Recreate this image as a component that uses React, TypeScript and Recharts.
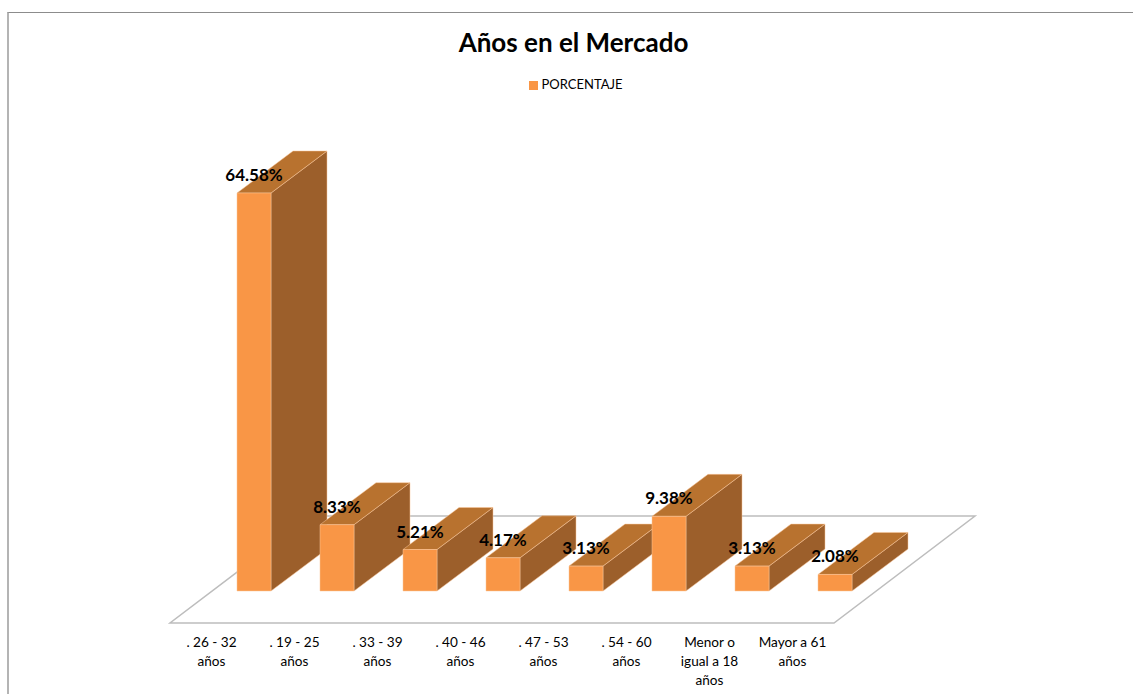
import React from "react";
import { BarChart, Bar, XAxis, YAxis, Legend, LabelList, usePlotArea } from "recharts";

// Chart data
const categories = [
  ". 26 - 32 años",
  ". 19 - 25 años",
  ". 33 - 39 años",
  ". 40 - 46 años",
  ". 47 - 53 años",
  ". 54 - 60 años",
  "Menor o igual a 18 años",
  "Mayor a 61 años",
];
const tickLines = [
  [". 26 - 32", "años"],
  [". 19 - 25", "años"],
  [". 33 - 39", "años"],
  [". 40 - 46", "años"],
  [". 47 - 53", "años"],
  [". 54 - 60", "años"],
  ["Menor o", "igual a 18", "años"],
  ["Mayor a 61", "años"],
];
const porcentaje = [64.58, 8.33, 5.21, 4.17, 3.13, 9.38, 3.13, 2.08];
const rows = categories.map((categoria, i) => ({ categoria, porcentaje: porcentaje[i] }));

// The value axis stops at 50%; taller columns are cut there and keep their true label.
const AXIS_CAP = 50;
const SCALE_TOP = 65;

// Oblique projection of the 3D box and the floor plane
const DEPTH_X = 56;
const DEPTH_Y = 42;
const FRONT_SHIFT = 42;
const FLOOR_FRONT = 32;
const FLOOR_BACK = 75;
const FLOOR_SHEAR = 141;

const COLORS = {
  front: "#F99646",
  side: "#9C5F2B",
  top: "#B8722F",
  edge: "#FBC79A",
  floor: "#BDBDBD",
  text: "#000000",
};
const FONT = "Lato, 'Open Sans', sans-serif";

function cappedTop(y: number, height: number, value: number) {
  const base = y + height;
  return base - height * (Math.min(value, AXIS_CAP) / value);
}

function BoxShape(props: any) {
  const { x, y, width, height, value } = props;
  const v = Array.isArray(value) ? value[1] : value;
  const left = x + FRONT_SHIFT;
  const right = left + width;
  const base = y + height;
  const top = cappedTop(y, height, v);
  const stroke = { stroke: COLORS.edge, strokeWidth: 0.5, strokeLinejoin: "round" as const };
  return (
    <g>
      <polygon
        points={`${right},${top} ${right + DEPTH_X},${top - DEPTH_Y} ${right + DEPTH_X},${base - DEPTH_Y} ${right},${base}`}
        fill={COLORS.side}
        {...stroke}
      />
      <polygon
        points={`${left},${top} ${left + DEPTH_X},${top - DEPTH_Y} ${right + DEPTH_X},${top - DEPTH_Y} ${right},${top}`}
        fill={COLORS.top}
        {...stroke}
      />
      <rect x={left} y={top} width={width} height={base - top} fill={COLORS.front} {...stroke} />
    </g>
  );
}

function ValueLabel(props: any) {
  const { x, y, width, height, value } = props;
  const top = cappedTop(y, height, value);
  return (
    <text
      x={x + width / 2 + FRONT_SHIFT}
      y={top - 12}
      textAnchor="middle"
      fontFamily={FONT}
      fontWeight={700}
      fontSize={17}
      fill={COLORS.text}
    >
      {`${value.toFixed(2)}%`}
    </text>
  );
}

function FloorPlane() {
  const plot = usePlotArea();
  if (!plot) return null;
  const base = plot.y + plot.height;
  const l = plot.x;
  const r = plot.x + plot.width;
  const points = [
    [l, base + FLOOR_FRONT],
    [r, base + FLOOR_FRONT],
    [r + FLOOR_SHEAR, base - FLOOR_BACK],
    [l + FLOOR_SHEAR, base - FLOOR_BACK],
  ]
    .map((p) => p.join(","))
    .join(" ");
  return <polygon points={points} fill="#FFFFFF" stroke={COLORS.floor} strokeWidth={1.5} />;
}

function CategoryTick(props: any) {
  const { x, payload } = props;
  const lines = tickLines[payload.index] ?? [payload.value];
  return (
    <text textAnchor="middle" fontFamily={FONT} fontSize={13.6} fill={COLORS.text}>
      {lines.map((line: string, i: number) => (
        <tspan key={i} x={x} y={647 + i * 19}>
          {line}
        </tspan>
      ))}
    </text>
  );
}

export default function App() {
  return (
    <div
      style={{
        position: "absolute",
        left: 0,
        top: 0,
        width: 1133,
        height: 694,
        overflow: "hidden",
        background: "#FFFFFF",
      }}
    >
      <div
        style={{
          position: "absolute",
          left: 7,
          top: 12,
          width: 1200,
          height: 800,
          borderLeft: "2px solid #B4B4B4",
          borderTop: "1px solid #8C8C8C",
        }}
      />
      <BarChart
        width={1133}
        height={694}
        data={rows}
        margin={{ top: 73.6, right: 299, bottom: 43, left: 170 }}
        barSize={34}
        style={{ position: "absolute", left: 0, top: 0 }}
      >
        <text
          x={573.5}
          y={52}
          textAnchor="middle"
          fontFamily={FONT}
          fontWeight={700}
          fontSize={26}
          fill={COLORS.text}
        >
          Años en el Mercado
        </text>
        <FloorPlane />
        <XAxis
          dataKey="categoria"
          axisLine={false}
          tickLine={false}
          interval={0}
          height={60}
          tick={<CategoryTick />}
        />
        <YAxis hide domain={[0, SCALE_TOP]} />
        <Legend
          layout="horizontal"
          align="center"
          verticalAlign="middle"
          iconType="square"
          iconSize={9}
          formatter={(v: string) => (
            <span style={{ color: COLORS.text, fontFamily: FONT, fontSize: 13 }}>{v}</span>
          )}
          wrapperStyle={{ top: 75, left: 0, width: 1161, bottom: "auto" }}
        />
        <Bar
          dataKey="porcentaje"
          name="PORCENTAJE"
          fill={COLORS.front}
          shape={<BoxShape />}
          isAnimationActive={false}
        >
          <LabelList dataKey="porcentaje" content={<ValueLabel />} />
        </Bar>
      </BarChart>
    </div>
  );
}
